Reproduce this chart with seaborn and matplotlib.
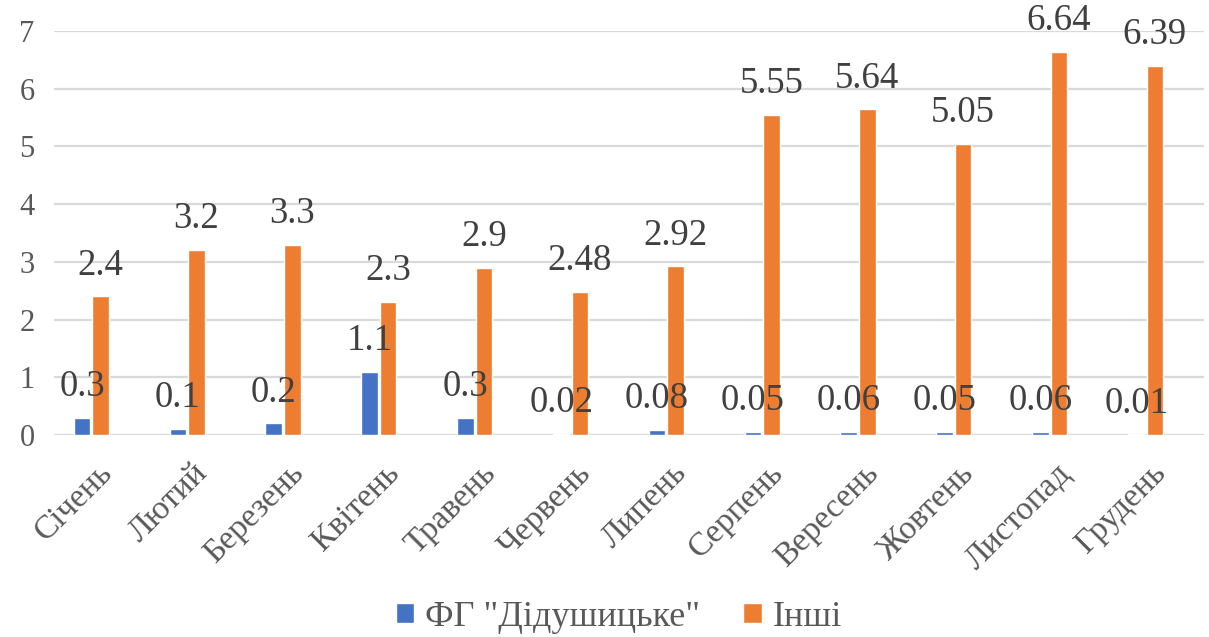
import matplotlib
matplotlib.use("Agg")
import matplotlib.pyplot as plt
import matplotlib.transforms as mtransforms
import seaborn as sns
import pandas as pd

months = ["Січень", "Лютий", "Березень", "Квітень", "Травень", "Червень",
          "Липень", "Серпень", "Вересень", "Жовтень", "Листопад", "Грудень"]
farm_values = [0.3, 0.1, 0.2, 1.1, 0.3, 0.02, 0.08, 0.05, 0.06, 0.05, 0.06, 0.01]
other_values = [2.4, 3.2, 3.3, 2.3, 2.9, 2.48, 2.92, 5.55, 5.64, 5.05, 6.64, 6.39]
series_names = ['ФГ "Дідушицьке"', "Інші"]
y_ticks = [0, 1, 2, 3, 4, 5, 6, 7]

df = pd.DataFrame({
    "month": months * 2,
    "value": farm_values + other_values,
    "series": [series_names[0]] * len(months) + [series_names[1]] * len(months),
})

FONT = "Liberation Serif"
sns.set_theme(style="white")
plt.rcParams["font.family"] = [FONT, "DejaVu Serif"]

fig = plt.figure(figsize=(12.09, 6.37), dpi=100)
ax = fig.add_axes([54 / 1209, 1 - 435 / 637, 1150 / 1209, 404 / 637])

palette = {series_names[0]: "#4472C4", series_names[1]: "#ED7D31"}
sns.barplot(data=df, x="month", y="value", hue="series", order=months,
            hue_order=series_names, palette=palette, width=0.39, gap=0.12,
            saturation=1, ax=ax, legend=True)

for cont in ax.containers:
    ax.bar_label(cont, fmt="{:g}", padding=10, fontsize=26.5, color="#404040")

ax.set_ylim(0, 7)
ax.set_xlim(-0.39, 11.61)
ax.set_yticks(y_ticks)
ax.yaxis.grid(True, color="#D9D9D9", linewidth=1.6)
ax.set_axisbelow(True)
for s in ax.spines.values():
    s.set_visible(False)
ax.axhline(0, color="#D9D9D9", linewidth=1.8, zorder=0.5)
ax.set_xlabel("")
ax.set_ylabel("")
ax.tick_params(axis="y", labelsize=22, colors="#595959", length=0, pad=14)
ax.tick_params(axis="x", labelsize=24, colors="#595959", length=0, pad=24)
shift = mtransforms.ScaledTranslation(0.16, 0, fig.dpi_scale_trans)
for lab in ax.get_xticklabels():
    lab.set_rotation(45)
    lab.set_ha("right")
    lab.set_va("center")
    lab.set_rotation_mode("anchor")
    lab.set_transform(lab.get_transform() + shift)

handles, labels = ax.get_legend_handles_labels()
ax.get_legend().remove()
fig.legend(handles, labels, loc="center", bbox_to_anchor=(0.512, 0.031),
           ncol=2, frameon=False, labelcolor="#595959",
           prop={"family": FONT, "size": 26},
           handlelength=0.5, handleheight=0.5, handletextpad=0.3,
           columnspacing=1.2)

fig.savefig("out.png", dpi=100)
